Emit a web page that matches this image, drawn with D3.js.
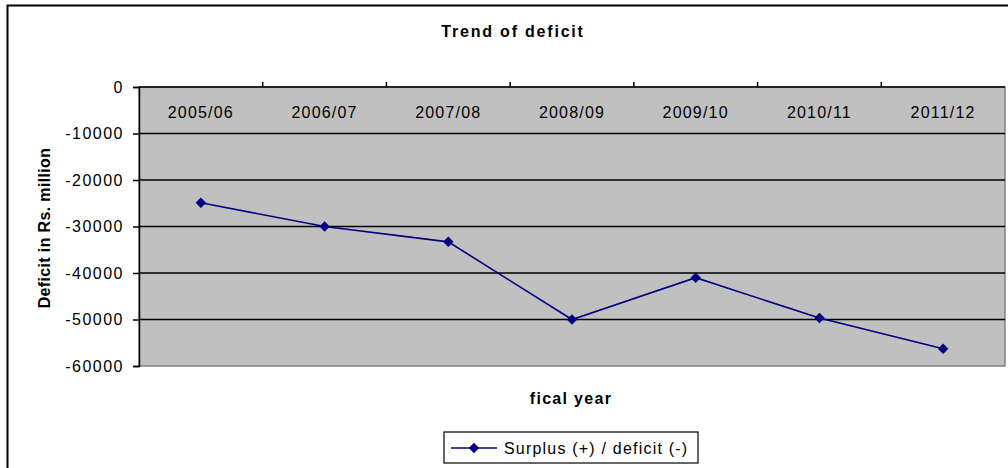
<!DOCTYPE html>
<html>
<head>
<meta charset="utf-8">
<script src="https://cdn.jsdelivr.net/npm/d3@7"></script>
<style>
  body { margin: 0; background: #fff; }
  svg { display: block; font-family: Arial, "Liberation Sans", sans-serif; }
</style>
</head>
<body>
<svg id="chart"></svg>
<script>
const years = ['2005/06', '2006/07', '2007/08', '2008/09', '2009/10', '2010/11', '2011/12']
const deficit = [-24900, -30000, -33300, -50000, -41000, -49700, -56300]
const yTicks = [0, -10000, -20000, -30000, -40000, -50000, -60000]
const seriesName = 'Surplus (+) / deficit (-)'

const width = 1008, height = 468
const margin = {top: 87, right: 3, bottom: 102, left: 139}

const svg = d3.select('#chart')
    .attr('width', width)
    .attr('height', height)

// outer chart frame (runs past the right/bottom edge)
svg.append('rect')
    .attr('x', 7.5).attr('y', 5.5)
    .attr('width', 1020).attr('height', 500)
    .attr('fill', 'none').attr('stroke', '#000').attr('stroke-width', 2)

const x = d3.scaleBand()
    .domain(years)
    .range([margin.left, width - margin.right])

const y = d3.scaleLinear()
    .domain([-60000, 0])
    .range([height - margin.bottom, margin.top])

// plot area
svg.append('rect')
    .attr('x', margin.left).attr('y', margin.top)
    .attr('width', width - margin.right - margin.left)
    .attr('height', y(-60000) - y(0))
    .attr('fill', '#c0c0c0')
    .attr('stroke', '#808080').attr('stroke-width', 1.5)

// gridlines
svg.append('g')
    .selectAll('line')
    .data(yTicks.filter(d => d !== 0 && d !== -60000))
    .join('line')
        .attr('x1', margin.left).attr('x2', width - margin.right)
        .attr('y1', d => y(d)).attr('y2', d => y(d))
        .attr('stroke', '#000').attr('stroke-width', 1.5)

// y axis
const gy = svg.append('g')
    .attr('transform', `translate(${margin.left},0)`)
    .call(d3.axisLeft(y).tickValues(yTicks).tickSize(6).tickPadding(8).tickFormat(d => String(d)))
gy.select('.domain').attr('stroke', '#000').attr('stroke-width', 1.5)
gy.selectAll('.tick line').attr('stroke', '#000').attr('stroke-width', 1.5)
gy.selectAll('text')
    .attr('fill', '#000')
    .style('font-size', '16px')
    .style('letter-spacing', '1.5px')
    .attr('dx', '-1px')

// x axis along the zero line, ticks between categories
const gx = svg.append('g')
    .attr('transform', `translate(0,${y(0)})`)
gx.append('line')
    .attr('x1', margin.left).attr('x2', width - margin.right)
    .attr('stroke', '#000').attr('stroke-width', 1.5)
gx.selectAll('.tk')
    .data(years.slice(1))
    .join('line')
        .attr('x1', d => x(d)).attr('x2', d => x(d))
        .attr('y1', 0).attr('y2', -5)
        .attr('stroke', '#000').attr('stroke-width', 1.5)
gx.selectAll('text')
    .data(years)
    .join('text')
        .attr('x', d => x(d) + x.bandwidth() / 2)
        .attr('y', 31)
        .attr('text-anchor', 'middle')
        .style('font-size', '16px')
        .style('letter-spacing', '1.2px')
        .text(d => d)

// line + markers
const pts = years.map((d, i) => [x(d) + x.bandwidth() / 2, y(deficit[i])])

svg.append('path')
    .datum(pts)
    .attr('d', d3.line())
    .attr('fill', 'none')
    .attr('stroke', '#000080')
    .attr('stroke-width', 1.6)

const diamond = d3.symbol().type(d3.symbolDiamond2).size(70)
svg.append('g')
    .selectAll('path')
    .data(pts)
    .join('path')
        .attr('transform', d => `translate(${d[0]},${d[1]})`)
        .attr('d', diamond)
        .attr('fill', '#000080')

// titles
svg.append('text')
    .attr('x', 513).attr('y', 37)
    .attr('text-anchor', 'middle')
    .style('font-size', '16px').style('font-weight', 'bold')
    .style('letter-spacing', '1.8px')
    .text('Trend of deficit')

svg.append('text')
    .attr('transform', 'translate(50,228) rotate(-90)')
    .attr('text-anchor', 'middle')
    .style('font-size', '16px').style('font-weight', 'bold')
    .style('letter-spacing', '0.35px')
    .text('Deficit in Rs. million')

svg.append('text')
    .attr('x', 571).attr('y', 404)
    .attr('text-anchor', 'middle')
    .style('font-size', '16px').style('font-weight', 'bold')
    .style('letter-spacing', '1.3px')
    .text('fical year')

// legend
const lg = svg.append('g').attr('transform', 'translate(444,432)')
lg.append('rect')
    .attr('width', 254).attr('height', 31)
    .attr('fill', '#fff').attr('stroke', '#000').attr('stroke-width', 1.2)
lg.append('line')
    .attr('x1', 7).attr('x2', 53).attr('y1', 16).attr('y2', 16)
    .attr('stroke', '#000080').attr('stroke-width', 1.6)
lg.append('path')
    .attr('transform', 'translate(30,16)')
    .attr('d', diamond)
    .attr('fill', '#000080')
lg.append('text')
    .attr('x', 60).attr('y', 22)
    .style('font-size', '16px')
    .style('letter-spacing', '1.2px')
    .text(seriesName)
</script>
</body>
</html>
